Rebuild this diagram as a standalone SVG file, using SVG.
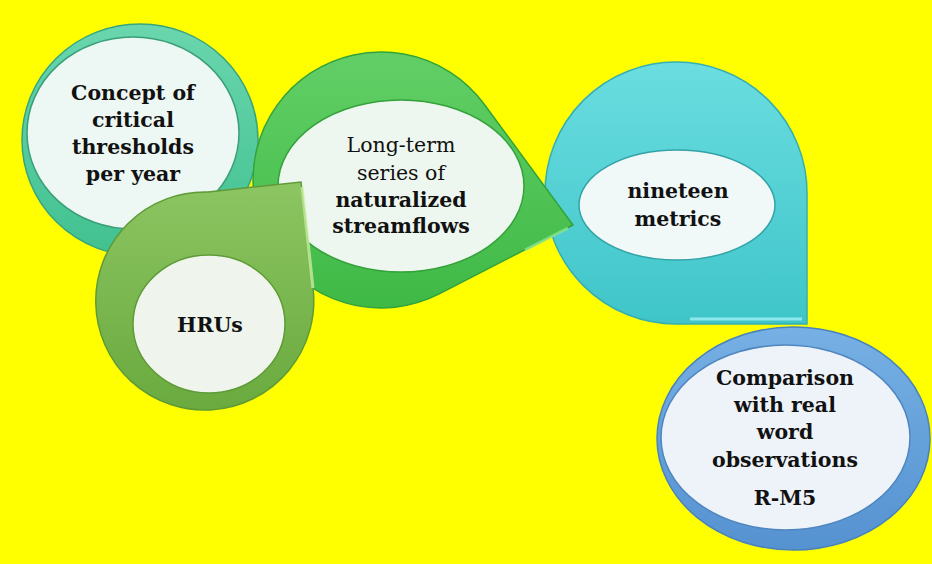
<svg xmlns="http://www.w3.org/2000/svg" width="932" height="564" viewBox="0 0 932 564">
<style>
  text { font-family: "DejaVu Serif", "Liberation Serif", serif; font-size: 20.5px; fill: #111; text-anchor: middle; }
  .b { font-weight: bold; }
  .r { font-weight: normal; }
  .inner { stroke-width: 1.5; }
  .hl { stroke-width: 3; opacity: 0.8; fill: none; }
</style>
<defs>
  <linearGradient id="gTeal" x1="0" y1="0" x2="0" y2="1">
    <stop offset="0" stop-color="#6ad6ae"/>
    <stop offset="1" stop-color="#41c190"/>
  </linearGradient>
  <linearGradient id="gGreen" x1="0" y1="0" x2="0" y2="1">
    <stop offset="0" stop-color="#62cf66"/>
    <stop offset="1" stop-color="#3fb946"/>
  </linearGradient>
  <linearGradient id="gCyan" x1="0" y1="0" x2="0" y2="1">
    <stop offset="0" stop-color="#6adde0"/>
    <stop offset="1" stop-color="#3fc5c9"/>
  </linearGradient>
  <linearGradient id="gOlive" x1="0" y1="0" x2="0" y2="1">
    <stop offset="0" stop-color="#8cc562"/>
    <stop offset="1" stop-color="#6aaa3e"/>
  </linearGradient>
  <linearGradient id="gBlue" x1="0" y1="0" x2="0" y2="1">
    <stop offset="0" stop-color="#76b0e4"/>
    <stop offset="1" stop-color="#5592d0"/>
  </linearGradient>
</defs>
<rect width="932" height="564" fill="#ffff00"/>

<g id="node-concept">
  <ellipse cx="140" cy="140" rx="118" ry="116" fill="url(#gTeal)" stroke="#38a47d" stroke-width="1.5"/>
  <ellipse class="inner" cx="133" cy="133" rx="106" ry="96" fill="#edf7f3" stroke="#3a9f78"/>
  <text class="b" x="133" y="100">Concept of</text>
  <text class="b" x="133" y="127">critical</text>
  <text class="b" x="133" y="154">thresholds</text>
  <text class="b" x="133" y="181">per year</text>
</g>

<g id="node-metrics">
  <path d="M 807 193 L 807 324 L 676 324 A 131 131 0 1 1 807 193 Z" fill="url(#gCyan)" stroke="#36aeb2" stroke-width="1.5"/>
  <path class="hl" d="M 802 319 L 690 319" stroke="#9ff0f2"/>
  <ellipse class="inner" cx="677" cy="205" rx="98" ry="55" fill="#f0f8f8" stroke="#34a3a7"/>
  <text class="b" x="678" y="198">nineteen</text>
  <text class="b" x="678" y="226">metrics</text>
</g>

<g id="node-streamflows">
  <path d="M 484.2 104.2 L 573 225 L 439.7 293.7 A 128 128 0 1 1 484.2 104.2 Z" fill="url(#gGreen)" stroke="#33a23a" stroke-width="1.5"/>
  <path class="hl" d="M 568 228 L 525 250" stroke="#8fe892"/>
  <ellipse class="inner" cx="401" cy="186" rx="123" ry="86" fill="#eef7ef" stroke="#35a13b"/>
  <text class="r" x="401" y="152">Long-term</text>
  <text class="r" x="401" y="180">series of</text>
  <text class="b" x="401" y="207">naturalized</text>
  <text class="b" x="401" y="233">streamflows</text>
</g>

<g id="node-hrus">
  <path d="M 208 192 L 301 182 L 313 288 A 109 109 0 1 1 208 192 Z" fill="url(#gOlive)" stroke="#5e9a36" stroke-width="1.5"/>
  <path class="hl" d="M 302 187 L 313 288" stroke="#c8f0a0"/>
  <ellipse class="inner" cx="209" cy="324" rx="76" ry="69" fill="#eff5ec" stroke="#5f9a38"/>
  <text class="b" x="210" y="332">HRUs</text>
</g>

<g id="node-comparison">
  <ellipse cx="793.5" cy="438.5" rx="136.5" ry="111.5" fill="url(#gBlue)" stroke="#4a82bd" stroke-width="1.5"/>
  <ellipse class="inner" cx="785.5" cy="437.5" rx="124.5" ry="92.5" fill="#eef3fa" stroke="#4f86c0"/>
  <text class="b" x="785" y="385">Comparison</text>
  <text class="b" x="785" y="412">with real</text>
  <text class="b" x="785" y="439">word</text>
  <text class="b" x="785" y="467">observations</text>
  <text class="b" x="785" y="505">R-M5</text>
</g>

<g id="connectors"></g>
</svg>
